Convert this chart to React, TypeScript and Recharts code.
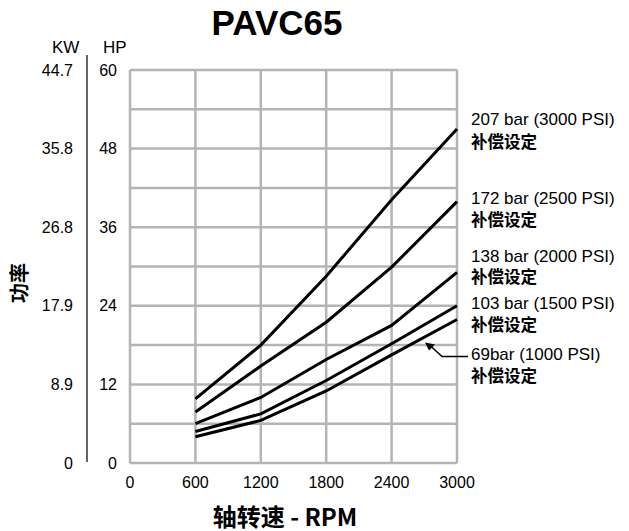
import { CartesianGrid, LabelList, Line, LineChart, XAxis, YAxis } from "recharts";

const rpm = [600, 1200, 1800, 2400, 3000];
const hp207 = [9.8, 18.0, 28.5, 40.2, 51.0];
const hp172 = [7.8, 14.8, 21.5, 29.9, 39.9];
const hp138 = [6.0, 10.0, 15.8, 21.0, 29.1];
const hp103 = [4.8, 7.5, 12.6, 18.2, 24.0];
const hp69 = [4.0, 6.5, 11.0, 16.5, 21.9];

const seriesNames = ["207 bar (3000 PSI)", "172 bar (2500 PSI)", "138 bar (2000 PSI)", "103 bar (1500 PSI)", "69bar (1000 PSI)"];
const seriesKeys = ["p207", "p172", "p138", "p103", "p69"];
const seriesValues = [hp207, hp172, hp138, hp103, hp69];

const rpmTicks = [0, 600, 1200, 1800, 2400, 3000];
const hpTicks = [0, 12, 24, 36, 48, 60];
const kwTickLabels = ["0", "8.9", "17.9", "26.8", "35.8", "44.7"];
const gridTicks = [0, 6, 12, 18, 24, 30, 36, 42, 48, 54, 60];

const data = rpm.map((r, i) => {
  const row: Record<string, number> = { rpm: r };
  seriesKeys.forEach((k, s) => (row[k] = seriesValues[s][i]));
  return row;
});

// label placement relative to the last point of each line
const labelDy = [
  [-9, 12.5],
  [-3, 17],
  [-16, 4],
  [-2, 18],
  [35, 55],
];

const FONT = "'Liberation Sans', Arial, 'Noto Sans CJK SC', sans-serif";
const CJK = "'Noto Sans CJK SC', 'Liberation Sans', sans-serif";
const GRID = "#b4b4b4";

function endLabel(s: number) {
  return (props: any) => {
    const { x, y, index } = props;
    if (index !== rpm.length - 1) return null;
    const [d1, d2] = labelDy[s];
    return (
      <g>
        <text x={x + 14} y={y + d1} dominantBaseline="central" fontSize={17} fontFamily={FONT} fill="#000">
          {seriesNames[s]}
        </text>
        <text x={x + 14} y={y + d2} dominantBaseline="central" fontSize={16.5} fontWeight="bold" fontFamily={CJK} fill="#000">
          补偿设定
        </text>
        {s === 4 && (
          <g>
            <polyline
              points={`${x + 11},${y + 37} ${x - 15},${y + 37} ${x - 27},${y + 26}`}
              fill="none"
              stroke="#000"
              strokeWidth={1.5}
            />
            <polygon points={`${x - 32},${y + 23} ${x - 22},${y + 25} ${x - 28},${y + 31}`} fill="#000" />
          </g>
        )}
      </g>
    );
  };
}

// draws the HP label next to the plot and the KW label further left
function DualTick(props: any) {
  const { x, y, payload } = props;
  const i = hpTicks.indexOf(payload.value);
  if (i < 0) return null;
  return (
    <g>
      <text x={x - 2} y={y} dominantBaseline="central" textAnchor="end" fontSize={16} fontFamily={FONT} fill="#000">
        {payload.value}
      </text>
      <text x={x - 46} y={y} dominantBaseline="central" textAnchor="end" fontSize={16} fontFamily={FONT} fill="#000">
        {kwTickLabels[i]}
      </text>
    </g>
  );
}

export default function App() {
  const tickStyle = { fontSize: 16, fill: "#000", fontFamily: FONT };
  return (
    <div style={{ position: "absolute", left: 0, top: 0, width: 629, height: 531, background: "#fff" }}>
      <LineChart width={629} height={531} data={data} margin={{ top: 70, right: 172, bottom: 38, left: 0 }}>
        <CartesianGrid stroke={GRID} strokeWidth={2.5} />
        <XAxis
          dataKey="rpm"
          type="number"
          domain={[0, 3000]}
          ticks={rpmTicks}
          axisLine={false}
          tickLine={false}
          tickMargin={8}
          height={30}
          tick={tickStyle}
          interval={0}
        />
        <YAxis
          domain={[0, 60]}
          ticks={gridTicks}
          axisLine={false}
          tickLine={false}
          tickMargin={5}
          width={130}
          tick={<DualTick />}
          interval={0}
        />
        {seriesKeys.map((k, s) => (
          <Line key={k} dataKey={k} stroke="#000" strokeWidth={3} dot={false} isAnimationActive={false}>
            <LabelList dataKey={k} content={endLabel(s)} />
          </Line>
        ))}
      </LineChart>
      <div
        style={{
          position: "absolute",
          left: 0,
          width: 554,
          top: 3,
          textAlign: "center",
          fontFamily: FONT,
          fontWeight: "bold",
          fontSize: 35,
          pointerEvents: "none",
        }}
      >
        PAVC65
      </div>
      <div style={{ position: "absolute", left: 52, top: 38, fontFamily: FONT, fontSize: 17 }}>KW</div>
      <div style={{ position: "absolute", left: 103, top: 38, fontFamily: FONT, fontSize: 17 }}>HP</div>
      <div style={{ position: "absolute", left: 86, top: 55, width: 1.5, height: 407, background: "#666" }} />
      <div
        style={{
          position: "absolute",
          left: 18,
          top: 283,
          transform: "translate(-50%, -50%) rotate(-90deg)",
          fontFamily: CJK,
          fontWeight: "bold",
          fontSize: 20,
          whiteSpace: "nowrap",
        }}
      >
        功率
      </div>
      <div
        style={{
          position: "absolute",
          left: 285,
          top: 515,
          transform: "translate(-50%, -50%)",
          fontFamily: CJK,
          fontWeight: "bold",
          fontSize: 24,
          whiteSpace: "nowrap",
        }}
      >
        轴转速 - RPM
      </div>
    </div>
  );
}
